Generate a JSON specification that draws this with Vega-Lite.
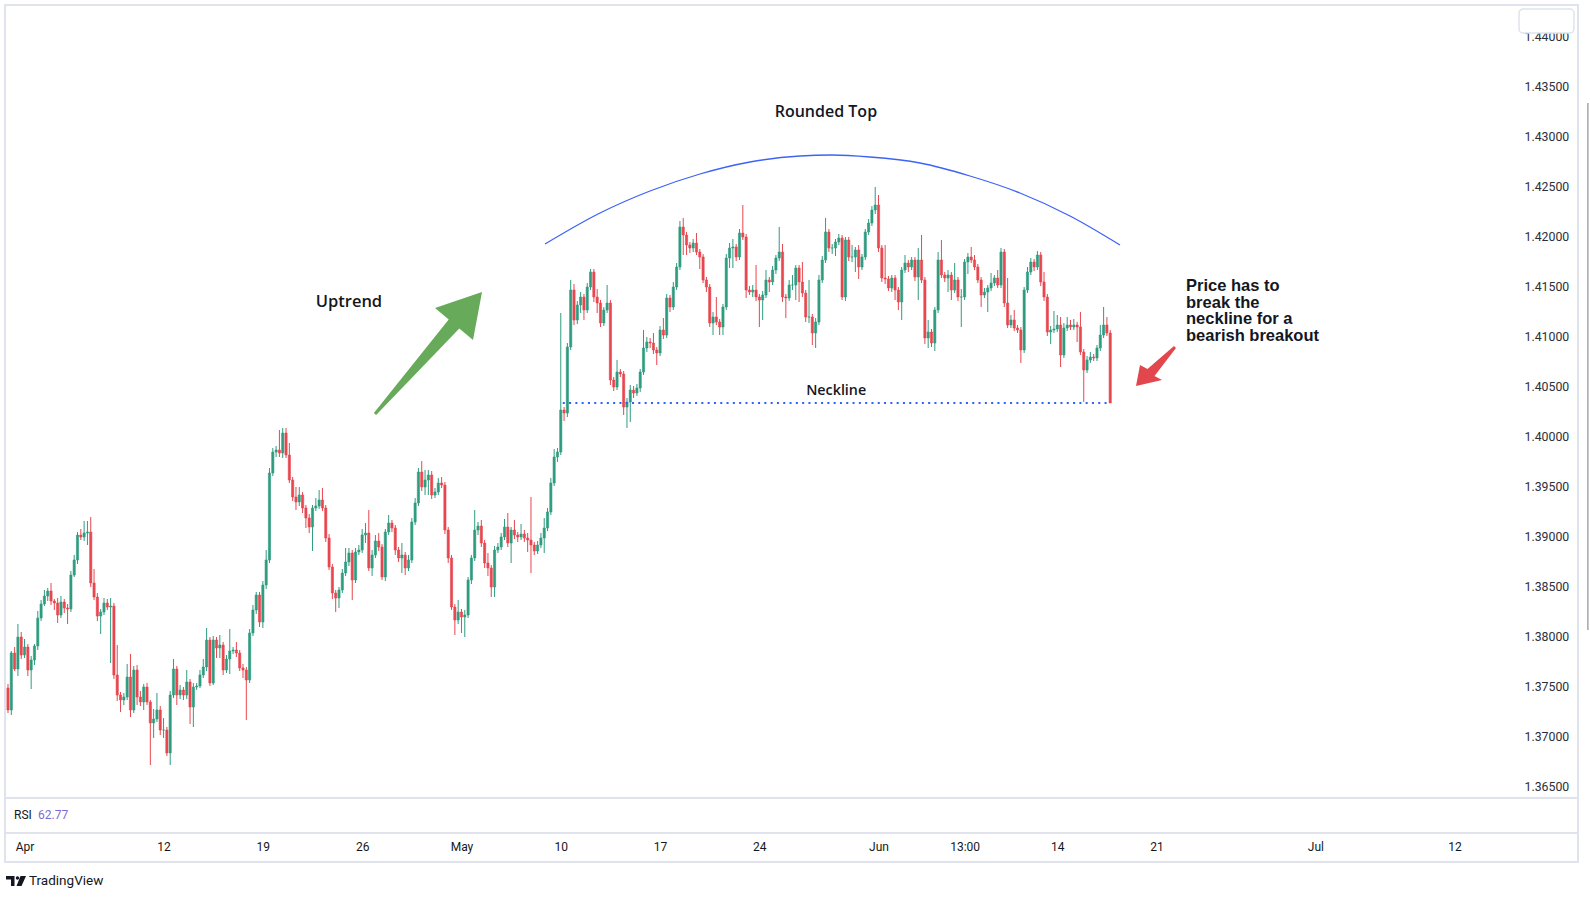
{
  "$schema": "https://vega.github.io/schema/vega-lite/v6.json",
  "width": 1573,
  "height": 857,
  "autosize": {"type": "none"},
  "padding": {"left": 5, "top": 5, "right": 12, "bottom": 38},
  "background": "white",
  "view": {"stroke": "#e0e3eb", "strokeWidth": 2},
  "datasets": {
    "candles": [
      {"n":0,"o":1.3748,"h":1.3752,"l":1.3723,"c":1.3726},
      {"n":1,"o":1.3726,"h":1.3785,"l":1.3721,"c":1.3783},
      {"n":2,"o":1.3783,"h":1.3789,"l":1.3765,"c":1.3767},
      {"n":3,"o":1.3767,"h":1.3812,"l":1.3760,"c":1.3799},
      {"n":4,"o":1.3799,"h":1.3804,"l":1.3777,"c":1.3781},
      {"n":5,"o":1.3781,"h":1.3797,"l":1.3778,"c":1.3789},
      {"n":6,"o":1.3789,"h":1.3792,"l":1.3760,"c":1.3766},
      {"n":7,"o":1.3766,"h":1.3780,"l":1.3747,"c":1.3776},
      {"n":8,"o":1.3776,"h":1.3792,"l":1.3771,"c":1.3790},
      {"n":9,"o":1.3790,"h":1.3825,"l":1.3786,"c":1.3818},
      {"n":10,"o":1.3818,"h":1.3836,"l":1.3815,"c":1.3832},
      {"n":11,"o":1.3832,"h":1.3846,"l":1.3830,"c":1.3840},
      {"n":12,"o":1.3840,"h":1.3848,"l":1.3835,"c":1.3845},
      {"n":13,"o":1.3845,"h":1.3853,"l":1.3831,"c":1.3835},
      {"n":14,"o":1.3835,"h":1.3837,"l":1.3826,"c":1.3833},
      {"n":15,"o":1.3833,"h":1.3838,"l":1.3813,"c":1.3821},
      {"n":16,"o":1.3821,"h":1.3840,"l":1.3818,"c":1.3834},
      {"n":17,"o":1.3834,"h":1.3837,"l":1.3823,"c":1.3828},
      {"n":18,"o":1.3828,"h":1.3832,"l":1.3812,"c":1.3827},
      {"n":19,"o":1.3827,"h":1.3865,"l":1.3824,"c":1.3861},
      {"n":20,"o":1.3861,"h":1.3881,"l":1.3859,"c":1.3876},
      {"n":21,"o":1.3876,"h":1.3904,"l":1.3872,"c":1.3901},
      {"n":22,"o":1.3901,"h":1.3907,"l":1.3896,"c":1.3899},
      {"n":23,"o":1.3899,"h":1.3915,"l":1.3895,"c":1.3903},
      {"n":24,"o":1.3903,"h":1.3915,"l":1.3891,"c":1.3904},
      {"n":25,"o":1.3904,"h":1.3919,"l":1.3849,"c":1.3853},
      {"n":26,"o":1.3853,"h":1.3867,"l":1.3836,"c":1.3839},
      {"n":27,"o":1.3839,"h":1.3843,"l":1.3815,"c":1.3820},
      {"n":28,"o":1.3820,"h":1.3827,"l":1.3802,"c":1.3824},
      {"n":29,"o":1.3824,"h":1.3838,"l":1.3821,"c":1.3833},
      {"n":30,"o":1.3833,"h":1.3837,"l":1.3826,"c":1.3829},
      {"n":31,"o":1.3829,"h":1.3838,"l":1.3773,"c":1.3830},
      {"n":32,"o":1.3830,"h":1.3833,"l":1.3757,"c":1.3761},
      {"n":33,"o":1.3761,"h":1.3791,"l":1.3735,"c":1.3741},
      {"n":34,"o":1.3741,"h":1.3744,"l":1.3724,"c":1.3736},
      {"n":35,"o":1.3736,"h":1.3743,"l":1.3731,"c":1.3739},
      {"n":36,"o":1.3739,"h":1.3772,"l":1.3736,"c":1.3759},
      {"n":37,"o":1.3759,"h":1.3782,"l":1.3719,"c":1.3726},
      {"n":38,"o":1.3726,"h":1.3770,"l":1.3723,"c":1.3766},
      {"n":39,"o":1.3766,"h":1.3771,"l":1.3731,"c":1.3739},
      {"n":40,"o":1.3739,"h":1.3745,"l":1.3730,"c":1.3734},
      {"n":41,"o":1.3734,"h":1.3752,"l":1.3726,"c":1.3749},
      {"n":42,"o":1.3749,"h":1.3753,"l":1.3731,"c":1.3734},
      {"n":43,"o":1.3734,"h":1.3736,"l":1.3671,"c":1.3713},
      {"n":44,"o":1.3713,"h":1.3727,"l":1.3698,"c":1.3717},
      {"n":45,"o":1.3717,"h":1.3743,"l":1.3714,"c":1.3726},
      {"n":46,"o":1.3726,"h":1.3730,"l":1.3701,"c":1.3706},
      {"n":47,"o":1.3706,"h":1.3718,"l":1.3698,"c":1.3706},
      {"n":48,"o":1.3706,"h":1.3709,"l":1.3680,"c":1.3683},
      {"n":49,"o":1.3683,"h":1.3745,"l":1.3671,"c":1.3741},
      {"n":50,"o":1.3741,"h":1.3777,"l":1.3738,"c":1.3767},
      {"n":51,"o":1.3767,"h":1.3770,"l":1.3731,"c":1.3741},
      {"n":52,"o":1.3741,"h":1.3751,"l":1.3737,"c":1.3746},
      {"n":53,"o":1.3746,"h":1.3749,"l":1.3736,"c":1.3741},
      {"n":54,"o":1.3741,"h":1.3766,"l":1.3737,"c":1.3754},
      {"n":55,"o":1.3754,"h":1.3757,"l":1.3712,"c":1.3729},
      {"n":56,"o":1.3729,"h":1.3753,"l":1.3709,"c":1.3749},
      {"n":57,"o":1.3749,"h":1.3753,"l":1.3746,"c":1.3750},
      {"n":58,"o":1.3750,"h":1.3766,"l":1.3748,"c":1.3761},
      {"n":59,"o":1.3761,"h":1.3777,"l":1.3758,"c":1.3769},
      {"n":60,"o":1.3769,"h":1.3808,"l":1.3765,"c":1.3796},
      {"n":61,"o":1.3796,"h":1.3799,"l":1.3750,"c":1.3753},
      {"n":62,"o":1.3753,"h":1.3800,"l":1.3751,"c":1.3796},
      {"n":63,"o":1.3796,"h":1.3799,"l":1.3778,"c":1.3788},
      {"n":64,"o":1.3788,"h":1.3801,"l":1.3778,"c":1.3791},
      {"n":65,"o":1.3791,"h":1.3794,"l":1.3761,"c":1.3766},
      {"n":66,"o":1.3766,"h":1.3781,"l":1.3763,"c":1.3777},
      {"n":67,"o":1.3777,"h":1.3807,"l":1.3762,"c":1.3785},
      {"n":68,"o":1.3785,"h":1.3789,"l":1.3782,"c":1.3786},
      {"n":69,"o":1.3786,"h":1.3794,"l":1.3779,"c":1.3783},
      {"n":70,"o":1.3783,"h":1.3786,"l":1.3765,"c":1.3768},
      {"n":71,"o":1.3768,"h":1.3772,"l":1.3758,"c":1.3766},
      {"n":72,"o":1.3766,"h":1.3769,"l":1.3716,"c":1.3756},
      {"n":73,"o":1.3756,"h":1.3807,"l":1.3753,"c":1.3803},
      {"n":74,"o":1.3803,"h":1.3831,"l":1.3800,"c":1.3826},
      {"n":75,"o":1.3826,"h":1.3844,"l":1.3822,"c":1.3841},
      {"n":76,"o":1.3841,"h":1.3844,"l":1.3809,"c":1.3814},
      {"n":77,"o":1.3814,"h":1.3855,"l":1.3808,"c":1.3851},
      {"n":78,"o":1.3851,"h":1.3886,"l":1.3847,"c":1.3876},
      {"n":79,"o":1.3876,"h":1.3968,"l":1.3873,"c":1.3963},
      {"n":80,"o":1.3963,"h":1.3988,"l":1.3960,"c":1.3984},
      {"n":81,"o":1.3984,"h":1.3990,"l":1.3979,"c":1.3986},
      {"n":82,"o":1.3986,"h":1.4006,"l":1.3979,"c":1.3983},
      {"n":83,"o":1.3983,"h":1.4008,"l":1.3978,"c":1.4003},
      {"n":84,"o":1.4003,"h":1.4008,"l":1.3978,"c":1.3981},
      {"n":85,"o":1.3981,"h":1.3993,"l":1.3953,"c":1.3956},
      {"n":86,"o":1.3956,"h":1.3959,"l":1.3935,"c":1.3939},
      {"n":87,"o":1.3939,"h":1.3949,"l":1.3926,"c":1.3934},
      {"n":88,"o":1.3934,"h":1.3949,"l":1.3930,"c":1.3941},
      {"n":89,"o":1.3941,"h":1.3944,"l":1.3923,"c":1.3928},
      {"n":90,"o":1.3928,"h":1.3931,"l":1.3908,"c":1.3918},
      {"n":91,"o":1.3918,"h":1.3922,"l":1.3903,"c":1.3909},
      {"n":92,"o":1.3909,"h":1.3931,"l":1.3885,"c":1.3928},
      {"n":93,"o":1.3928,"h":1.3938,"l":1.3925,"c":1.3930},
      {"n":94,"o":1.3930,"h":1.3946,"l":1.3927,"c":1.3936},
      {"n":95,"o":1.3936,"h":1.3948,"l":1.3925,"c":1.3928},
      {"n":96,"o":1.3928,"h":1.3931,"l":1.3894,"c":1.3898},
      {"n":97,"o":1.3898,"h":1.3902,"l":1.3866,"c":1.3869},
      {"n":98,"o":1.3869,"h":1.3872,"l":1.3837,"c":1.3843},
      {"n":99,"o":1.3843,"h":1.3846,"l":1.3824,"c":1.3838},
      {"n":100,"o":1.3838,"h":1.3849,"l":1.3828,"c":1.3846},
      {"n":101,"o":1.3846,"h":1.3867,"l":1.3843,"c":1.3863},
      {"n":102,"o":1.3863,"h":1.3888,"l":1.3860,"c":1.3874},
      {"n":103,"o":1.3874,"h":1.3888,"l":1.3870,"c":1.3883},
      {"n":104,"o":1.3883,"h":1.3886,"l":1.3836,"c":1.3856},
      {"n":105,"o":1.3856,"h":1.3888,"l":1.3853,"c":1.3884},
      {"n":106,"o":1.3884,"h":1.3891,"l":1.3881,"c":1.3886},
      {"n":107,"o":1.3886,"h":1.3907,"l":1.3883,"c":1.3901},
      {"n":108,"o":1.3901,"h":1.3913,"l":1.3893,"c":1.3903},
      {"n":109,"o":1.3903,"h":1.3926,"l":1.3865,"c":1.3868},
      {"n":110,"o":1.3868,"h":1.3886,"l":1.3860,"c":1.3881},
      {"n":111,"o":1.3881,"h":1.3901,"l":1.3878,"c":1.3895},
      {"n":112,"o":1.3895,"h":1.3903,"l":1.3885,"c":1.3889},
      {"n":113,"o":1.3889,"h":1.3892,"l":1.3856,"c":1.3859},
      {"n":114,"o":1.3859,"h":1.3907,"l":1.3855,"c":1.3904},
      {"n":115,"o":1.3904,"h":1.3921,"l":1.3901,"c":1.3913},
      {"n":116,"o":1.3913,"h":1.3916,"l":1.3904,"c":1.3908},
      {"n":117,"o":1.3908,"h":1.3911,"l":1.3881,"c":1.3886},
      {"n":118,"o":1.3886,"h":1.3889,"l":1.3874,"c":1.3878},
      {"n":119,"o":1.3878,"h":1.3893,"l":1.3863,"c":1.3881},
      {"n":120,"o":1.3881,"h":1.3884,"l":1.3861,"c":1.3868},
      {"n":121,"o":1.3868,"h":1.3881,"l":1.3865,"c":1.3876},
      {"n":122,"o":1.3876,"h":1.3918,"l":1.3873,"c":1.3914},
      {"n":123,"o":1.3914,"h":1.3938,"l":1.3911,"c":1.3933},
      {"n":124,"o":1.3933,"h":1.3968,"l":1.3930,"c":1.3964},
      {"n":125,"o":1.3964,"h":1.3975,"l":1.3945,"c":1.3949},
      {"n":126,"o":1.3949,"h":1.3966,"l":1.3941,"c":1.3956},
      {"n":127,"o":1.3956,"h":1.3966,"l":1.3941,"c":1.3961},
      {"n":128,"o":1.3961,"h":1.3965,"l":1.3937,"c":1.3941},
      {"n":129,"o":1.3941,"h":1.3948,"l":1.3938,"c":1.3944},
      {"n":130,"o":1.3944,"h":1.3958,"l":1.3941,"c":1.3953},
      {"n":131,"o":1.3953,"h":1.3959,"l":1.3948,"c":1.3951},
      {"n":132,"o":1.3951,"h":1.3954,"l":1.3902,"c":1.3906},
      {"n":133,"o":1.3906,"h":1.3909,"l":1.3873,"c":1.3878},
      {"n":134,"o":1.3878,"h":1.3881,"l":1.3826,"c":1.3829},
      {"n":135,"o":1.3829,"h":1.3832,"l":1.3801,"c":1.3816},
      {"n":136,"o":1.3816,"h":1.3836,"l":1.3812,"c":1.3824},
      {"n":137,"o":1.3824,"h":1.3827,"l":1.3803,"c":1.3819},
      {"n":138,"o":1.3819,"h":1.3826,"l":1.3799,"c":1.3821},
      {"n":139,"o":1.3821,"h":1.3859,"l":1.3818,"c":1.3856},
      {"n":140,"o":1.3856,"h":1.3881,"l":1.3852,"c":1.3878},
      {"n":141,"o":1.3878,"h":1.3926,"l":1.3875,"c":1.3906},
      {"n":142,"o":1.3906,"h":1.3914,"l":1.3901,"c":1.3910},
      {"n":143,"o":1.3910,"h":1.3916,"l":1.3889,"c":1.3893},
      {"n":144,"o":1.3893,"h":1.3896,"l":1.3868,"c":1.3873},
      {"n":145,"o":1.3873,"h":1.3883,"l":1.3860,"c":1.3868},
      {"n":146,"o":1.3868,"h":1.3871,"l":1.3839,"c":1.3849},
      {"n":147,"o":1.3849,"h":1.3890,"l":1.3839,"c":1.3886},
      {"n":148,"o":1.3886,"h":1.3893,"l":1.3883,"c":1.3889},
      {"n":149,"o":1.3889,"h":1.3903,"l":1.3886,"c":1.3899},
      {"n":150,"o":1.3899,"h":1.3917,"l":1.3896,"c":1.3909},
      {"n":151,"o":1.3909,"h":1.3923,"l":1.3889,"c":1.3893},
      {"n":152,"o":1.3893,"h":1.3909,"l":1.3873,"c":1.3906},
      {"n":153,"o":1.3906,"h":1.3916,"l":1.3897,"c":1.3901},
      {"n":154,"o":1.3901,"h":1.3904,"l":1.3894,"c":1.3899},
      {"n":155,"o":1.3899,"h":1.3912,"l":1.3896,"c":1.3902},
      {"n":156,"o":1.3902,"h":1.3906,"l":1.3894,"c":1.3898},
      {"n":157,"o":1.3898,"h":1.3903,"l":1.3884,"c":1.3896},
      {"n":158,"o":1.3896,"h":1.3939,"l":1.3863,"c":1.3891},
      {"n":159,"o":1.3891,"h":1.3894,"l":1.3881,"c":1.3885},
      {"n":160,"o":1.3885,"h":1.3895,"l":1.3882,"c":1.3891},
      {"n":161,"o":1.3891,"h":1.3903,"l":1.3888,"c":1.3898},
      {"n":162,"o":1.3898,"h":1.3918,"l":1.3883,"c":1.3908},
      {"n":163,"o":1.3908,"h":1.3928,"l":1.3905,"c":1.3924},
      {"n":164,"o":1.3924,"h":1.3958,"l":1.3921,"c":1.3953},
      {"n":165,"o":1.3953,"h":1.3987,"l":1.3950,"c":1.3979},
      {"n":166,"o":1.3979,"h":1.3988,"l":1.3974,"c":1.3984},
      {"n":167,"o":1.3984,"h":1.4123,"l":1.3981,"c":1.4026},
      {"n":168,"o":1.4026,"h":1.4029,"l":1.4015,"c":1.4023},
      {"n":169,"o":1.4023,"h":1.4093,"l":1.4019,"c":1.4089},
      {"n":170,"o":1.4089,"h":1.4156,"l":1.4086,"c":1.4146},
      {"n":171,"o":1.4146,"h":1.4152,"l":1.4111,"c":1.4116},
      {"n":172,"o":1.4116,"h":1.4135,"l":1.4112,"c":1.4131},
      {"n":173,"o":1.4131,"h":1.4144,"l":1.4123,"c":1.4139},
      {"n":174,"o":1.4139,"h":1.4142,"l":1.4116,"c":1.4126},
      {"n":175,"o":1.4126,"h":1.4153,"l":1.4123,"c":1.4149},
      {"n":176,"o":1.4149,"h":1.4167,"l":1.4146,"c":1.4164},
      {"n":177,"o":1.4164,"h":1.4167,"l":1.4134,"c":1.4139},
      {"n":178,"o":1.4139,"h":1.4147,"l":1.4123,"c":1.4133},
      {"n":179,"o":1.4133,"h":1.4136,"l":1.4109,"c":1.4113},
      {"n":180,"o":1.4113,"h":1.4129,"l":1.4110,"c":1.4126},
      {"n":181,"o":1.4126,"h":1.4151,"l":1.4123,"c":1.4133},
      {"n":182,"o":1.4133,"h":1.4136,"l":1.4051,"c":1.4056},
      {"n":183,"o":1.4056,"h":1.4059,"l":1.4045,"c":1.4049},
      {"n":184,"o":1.4049,"h":1.4076,"l":1.4046,"c":1.4064},
      {"n":185,"o":1.4064,"h":1.4067,"l":1.4059,"c":1.4062},
      {"n":186,"o":1.4062,"h":1.4065,"l":1.4021,"c":1.4029},
      {"n":187,"o":1.4029,"h":1.4038,"l":1.4008,"c":1.4034},
      {"n":188,"o":1.4034,"h":1.4051,"l":1.4014,"c":1.4046},
      {"n":189,"o":1.4046,"h":1.4050,"l":1.4038,"c":1.4043},
      {"n":190,"o":1.4043,"h":1.4052,"l":1.4040,"c":1.4048},
      {"n":191,"o":1.4048,"h":1.4067,"l":1.4044,"c":1.4064},
      {"n":192,"o":1.4064,"h":1.4106,"l":1.4061,"c":1.4088},
      {"n":193,"o":1.4088,"h":1.4099,"l":1.4084,"c":1.4094},
      {"n":194,"o":1.4094,"h":1.4098,"l":1.4088,"c":1.4093},
      {"n":195,"o":1.4093,"h":1.4103,"l":1.4082,"c":1.4086},
      {"n":196,"o":1.4086,"h":1.4089,"l":1.4071,"c":1.4083},
      {"n":197,"o":1.4083,"h":1.4110,"l":1.4080,"c":1.4106},
      {"n":198,"o":1.4106,"h":1.4118,"l":1.4097,"c":1.4101},
      {"n":199,"o":1.4101,"h":1.4142,"l":1.4098,"c":1.4138},
      {"n":200,"o":1.4138,"h":1.4141,"l":1.4124,"c":1.4129},
      {"n":201,"o":1.4129,"h":1.4154,"l":1.4126,"c":1.4149},
      {"n":202,"o":1.4149,"h":1.4173,"l":1.4146,"c":1.4169},
      {"n":203,"o":1.4169,"h":1.4215,"l":1.4166,"c":1.4209},
      {"n":204,"o":1.4209,"h":1.4218,"l":1.4181,"c":1.4201},
      {"n":205,"o":1.4201,"h":1.4204,"l":1.4181,"c":1.4191},
      {"n":206,"o":1.4191,"h":1.4194,"l":1.4183,"c":1.4188},
      {"n":207,"o":1.4188,"h":1.4197,"l":1.4184,"c":1.4193},
      {"n":208,"o":1.4193,"h":1.4203,"l":1.4181,"c":1.4184},
      {"n":209,"o":1.4184,"h":1.4187,"l":1.4167,"c":1.4179},
      {"n":210,"o":1.4179,"h":1.4182,"l":1.4153,"c":1.4156},
      {"n":211,"o":1.4156,"h":1.4159,"l":1.4144,"c":1.4149},
      {"n":212,"o":1.4149,"h":1.4152,"l":1.4109,"c":1.4113},
      {"n":213,"o":1.4113,"h":1.4124,"l":1.4101,"c":1.4119},
      {"n":214,"o":1.4119,"h":1.4139,"l":1.4111,"c":1.4114},
      {"n":215,"o":1.4114,"h":1.4117,"l":1.4101,"c":1.4109},
      {"n":216,"o":1.4109,"h":1.4132,"l":1.4101,"c":1.4129},
      {"n":217,"o":1.4129,"h":1.4182,"l":1.4126,"c":1.4178},
      {"n":218,"o":1.4178,"h":1.4193,"l":1.4168,"c":1.4188},
      {"n":219,"o":1.4188,"h":1.4197,"l":1.4168,"c":1.4189},
      {"n":220,"o":1.4189,"h":1.4192,"l":1.4175,"c":1.4179},
      {"n":221,"o":1.4179,"h":1.4207,"l":1.4176,"c":1.4203},
      {"n":222,"o":1.4203,"h":1.4231,"l":1.4196,"c":1.4199},
      {"n":223,"o":1.4199,"h":1.4202,"l":1.4138,"c":1.4146},
      {"n":224,"o":1.4146,"h":1.4150,"l":1.4141,"c":1.4144},
      {"n":225,"o":1.4144,"h":1.4151,"l":1.4139,"c":1.4146},
      {"n":226,"o":1.4146,"h":1.4171,"l":1.4135,"c":1.4139},
      {"n":227,"o":1.4139,"h":1.4142,"l":1.4109,"c":1.4136},
      {"n":228,"o":1.4136,"h":1.4145,"l":1.4116,"c":1.4141},
      {"n":229,"o":1.4141,"h":1.4166,"l":1.4138,"c":1.4156},
      {"n":230,"o":1.4156,"h":1.4159,"l":1.4144,"c":1.4154},
      {"n":231,"o":1.4154,"h":1.4170,"l":1.4151,"c":1.4166},
      {"n":232,"o":1.4166,"h":1.4181,"l":1.4162,"c":1.4178},
      {"n":233,"o":1.4178,"h":1.4209,"l":1.4175,"c":1.4184},
      {"n":234,"o":1.4184,"h":1.4192,"l":1.4134,"c":1.4139},
      {"n":235,"o":1.4139,"h":1.4142,"l":1.4118,"c":1.4138},
      {"n":236,"o":1.4138,"h":1.4156,"l":1.4135,"c":1.4151},
      {"n":237,"o":1.4151,"h":1.4161,"l":1.4146,"c":1.4151},
      {"n":238,"o":1.4151,"h":1.4171,"l":1.4136,"c":1.4168},
      {"n":239,"o":1.4168,"h":1.4171,"l":1.4134,"c":1.4154},
      {"n":240,"o":1.4154,"h":1.4174,"l":1.4139,"c":1.4143},
      {"n":241,"o":1.4143,"h":1.4146,"l":1.4114,"c":1.4119},
      {"n":242,"o":1.4119,"h":1.4156,"l":1.4113,"c":1.4119},
      {"n":243,"o":1.4119,"h":1.4122,"l":1.4091,"c":1.4103},
      {"n":244,"o":1.4103,"h":1.4118,"l":1.4088,"c":1.4114},
      {"n":245,"o":1.4114,"h":1.4161,"l":1.4111,"c":1.4156},
      {"n":246,"o":1.4156,"h":1.4180,"l":1.4153,"c":1.4176},
      {"n":247,"o":1.4176,"h":1.4218,"l":1.4173,"c":1.4204},
      {"n":248,"o":1.4204,"h":1.4207,"l":1.4184,"c":1.4188},
      {"n":249,"o":1.4188,"h":1.4192,"l":1.4182,"c":1.4188},
      {"n":250,"o":1.4188,"h":1.4197,"l":1.4180,"c":1.4194},
      {"n":251,"o":1.4194,"h":1.4202,"l":1.4191,"c":1.4198},
      {"n":252,"o":1.4198,"h":1.4201,"l":1.4136,"c":1.4139},
      {"n":253,"o":1.4139,"h":1.4199,"l":1.4135,"c":1.4196},
      {"n":254,"o":1.4196,"h":1.4199,"l":1.4175,"c":1.4179},
      {"n":255,"o":1.4179,"h":1.4191,"l":1.4174,"c":1.4179},
      {"n":256,"o":1.4179,"h":1.4189,"l":1.4164,"c":1.4186},
      {"n":257,"o":1.4186,"h":1.4191,"l":1.4157,"c":1.4169},
      {"n":258,"o":1.4169,"h":1.4182,"l":1.4166,"c":1.4179},
      {"n":259,"o":1.4179,"h":1.4207,"l":1.4176,"c":1.4204},
      {"n":260,"o":1.4204,"h":1.4217,"l":1.4201,"c":1.4213},
      {"n":261,"o":1.4213,"h":1.4230,"l":1.4210,"c":1.4226},
      {"n":262,"o":1.4226,"h":1.4249,"l":1.4222,"c":1.4231},
      {"n":263,"o":1.4231,"h":1.4241,"l":1.4184,"c":1.4188},
      {"n":264,"o":1.4188,"h":1.4191,"l":1.4154,"c":1.4158},
      {"n":265,"o":1.4158,"h":1.4191,"l":1.4152,"c":1.4157},
      {"n":266,"o":1.4157,"h":1.4160,"l":1.4145,"c":1.4148},
      {"n":267,"o":1.4148,"h":1.4161,"l":1.4144,"c":1.4158},
      {"n":268,"o":1.4158,"h":1.4161,"l":1.4136,"c":1.4146},
      {"n":269,"o":1.4146,"h":1.4149,"l":1.4126,"c":1.4134},
      {"n":270,"o":1.4134,"h":1.4169,"l":1.4116,"c":1.4166},
      {"n":271,"o":1.4166,"h":1.4181,"l":1.4163,"c":1.4173},
      {"n":272,"o":1.4173,"h":1.4176,"l":1.4164,"c":1.4169},
      {"n":273,"o":1.4169,"h":1.4179,"l":1.4166,"c":1.4176},
      {"n":274,"o":1.4176,"h":1.4179,"l":1.4155,"c":1.4159},
      {"n":275,"o":1.4159,"h":1.4188,"l":1.4136,"c":1.4176},
      {"n":276,"o":1.4176,"h":1.4201,"l":1.4153,"c":1.4156},
      {"n":277,"o":1.4156,"h":1.4159,"l":1.4092,"c":1.4098},
      {"n":278,"o":1.4098,"h":1.4116,"l":1.4088,"c":1.4104},
      {"n":279,"o":1.4104,"h":1.4107,"l":1.4089,"c":1.4093},
      {"n":280,"o":1.4093,"h":1.4129,"l":1.4085,"c":1.4126},
      {"n":281,"o":1.4126,"h":1.4184,"l":1.4123,"c":1.4176},
      {"n":282,"o":1.4176,"h":1.4196,"l":1.4158,"c":1.4161},
      {"n":283,"o":1.4161,"h":1.4164,"l":1.4154,"c":1.4158},
      {"n":284,"o":1.4158,"h":1.4166,"l":1.4144,"c":1.4161},
      {"n":285,"o":1.4161,"h":1.4164,"l":1.4136,"c":1.4146},
      {"n":286,"o":1.4146,"h":1.4173,"l":1.4143,"c":1.4156},
      {"n":287,"o":1.4156,"h":1.4159,"l":1.4135,"c":1.4139},
      {"n":288,"o":1.4139,"h":1.4147,"l":1.4109,"c":1.4139},
      {"n":289,"o":1.4139,"h":1.4177,"l":1.4136,"c":1.4174},
      {"n":290,"o":1.4174,"h":1.4183,"l":1.4162,"c":1.4179},
      {"n":291,"o":1.4179,"h":1.4189,"l":1.4173,"c":1.4176},
      {"n":292,"o":1.4176,"h":1.4181,"l":1.4166,"c":1.4169},
      {"n":293,"o":1.4169,"h":1.4172,"l":1.4153,"c":1.4156},
      {"n":294,"o":1.4156,"h":1.4159,"l":1.4129,"c":1.4141},
      {"n":295,"o":1.4141,"h":1.4148,"l":1.4138,"c":1.4144},
      {"n":296,"o":1.4144,"h":1.4151,"l":1.4124,"c":1.4148},
      {"n":297,"o":1.4148,"h":1.4163,"l":1.4145,"c":1.4153},
      {"n":298,"o":1.4153,"h":1.4161,"l":1.4150,"c":1.4158},
      {"n":299,"o":1.4158,"h":1.4166,"l":1.4148,"c":1.4151},
      {"n":300,"o":1.4151,"h":1.4188,"l":1.4148,"c":1.4184},
      {"n":301,"o":1.4184,"h":1.4187,"l":1.4129,"c":1.4133},
      {"n":302,"o":1.4133,"h":1.4158,"l":1.4108,"c":1.4111},
      {"n":303,"o":1.4111,"h":1.4121,"l":1.4108,"c":1.4116},
      {"n":304,"o":1.4116,"h":1.4126,"l":1.4105,"c":1.4108},
      {"n":305,"o":1.4108,"h":1.4111,"l":1.4103,"c":1.4106},
      {"n":306,"o":1.4106,"h":1.4109,"l":1.4073,"c":1.4086},
      {"n":307,"o":1.4086,"h":1.4149,"l":1.4083,"c":1.4146},
      {"n":308,"o":1.4146,"h":1.4169,"l":1.4143,"c":1.4164},
      {"n":309,"o":1.4164,"h":1.4178,"l":1.4161,"c":1.4174},
      {"n":310,"o":1.4174,"h":1.4177,"l":1.4165,"c":1.4169},
      {"n":311,"o":1.4169,"h":1.4185,"l":1.4166,"c":1.4181},
      {"n":312,"o":1.4181,"h":1.4184,"l":1.4150,"c":1.4154},
      {"n":313,"o":1.4154,"h":1.4164,"l":1.4135,"c":1.4139},
      {"n":314,"o":1.4139,"h":1.4142,"l":1.4100,"c":1.4104},
      {"n":315,"o":1.4104,"h":1.4110,"l":1.4092,"c":1.4106},
      {"n":316,"o":1.4106,"h":1.4125,"l":1.4103,"c":1.4107},
      {"n":317,"o":1.4107,"h":1.4121,"l":1.4104,"c":1.4111},
      {"n":318,"o":1.4111,"h":1.4119,"l":1.4069,"c":1.4081},
      {"n":319,"o":1.4081,"h":1.4113,"l":1.4078,"c":1.4108},
      {"n":320,"o":1.4108,"h":1.4119,"l":1.4105,"c":1.4111},
      {"n":321,"o":1.4111,"h":1.4116,"l":1.4106,"c":1.4109},
      {"n":322,"o":1.4109,"h":1.4117,"l":1.4106,"c":1.4111},
      {"n":323,"o":1.4111,"h":1.4114,"l":1.4094,"c":1.4109},
      {"n":324,"o":1.4109,"h":1.4124,"l":1.4081,"c":1.4084},
      {"n":325,"o":1.4084,"h":1.4087,"l":1.4034,"c":1.4066},
      {"n":326,"o":1.4066,"h":1.4080,"l":1.4063,"c":1.4076},
      {"n":327,"o":1.4076,"h":1.4084,"l":1.4073,"c":1.4079},
      {"n":328,"o":1.4079,"h":1.4082,"l":1.4075,"c":1.4078},
      {"n":329,"o":1.4078,"h":1.4091,"l":1.4075,"c":1.4088},
      {"n":330,"o":1.4088,"h":1.4111,"l":1.4085,"c":1.4101},
      {"n":331,"o":1.4101,"h":1.4129,"l":1.4098,"c":1.4111},
      {"n":332,"o":1.4111,"h":1.4119,"l":1.4100,"c":1.4103},
      {"n":333,"o":1.4103,"h":1.4106,"l":1.4033,"c":1.4033}
    ],
    "arc": [
      {"n":162.24,"p":1.4192},{"n":178.85,"p":1.4223},{"n":193.96,"p":1.4245},
      {"n":209.06,"p":1.4262},{"n":224.17,"p":1.4274},{"n":239.27,"p":1.428},
      {"n":248.94,"p":1.4281},{"n":260.42,"p":1.4279},{"n":275.53,"p":1.4273},
      {"n":290.63,"p":1.426},{"n":305.74,"p":1.4243},{"n":320.85,"p":1.422},
      {"n":335.95,"p":1.4191}
    ]
  },
  "layer": [
    {
      "data": {"name": "candles"},
      "mark": {"type": "rule", "strokeWidth": 1},
      "encoding": {
        "x": {
          "field": "n",
          "type": "quantitative",
          "scale": {"domain": [-0.906, 474.32], "nice": false, "zero": false, "padding": 0},
          "axis": {
            "orient": "bottom",
            "offset": -29,
            "title": null,
            "domain": false,
            "ticks": false,
            "grid": false,
            "labelPadding": 8,
            "labelFont": "Roboto",
            "labelFontSize": 12,
            "labelColor": "#131722",
            "labelOverlap": false,
            "labelFlush": false,
            "values": [5, 47, 77, 107, 137, 167, 197, 227, 263, 289, 317, 347, 395, 437],
            "labelExpr": "datum.value == 5 ? 'Apr' : datum.value == 47 ? '12' : datum.value == 77 ? '19' : datum.value == 107 ? '26' : datum.value == 137 ? 'May' : datum.value == 167 ? '10' : datum.value == 197 ? '17' : datum.value == 227 ? '24' : datum.value == 263 ? 'Jun' : datum.value == 289 ? '13:00' : datum.value == 317 ? '14' : datum.value == 347 ? '21' : datum.value == 395 ? 'Jul' : '12'"
          }
        },
        "y": {
          "field": "l",
          "type": "quantitative",
          "scale": {"domain": [1.3574, 1.4431], "nice": false, "zero": false, "padding": 0},
          "axis": {
            "orient": "right",
            "offset": -63,
            "title": null,
            "domain": false,
            "ticks": false,
            "grid": false,
            "labelPadding": 9,
            "labelFont": "Roboto",
            "labelFontSize": 12.3,
            "labelColor": "#2a2e39",
            "labelOverlap": false,
            "labelFlush": false,
            "values": [1.365, 1.37, 1.375, 1.38, 1.385, 1.39, 1.395, 1.4, 1.405, 1.41, 1.415, 1.42, 1.425, 1.43, 1.435, 1.44],
            "format": ".5f"
          }
        },
        "y2": {"field": "h"},
        "color": {
          "condition": {"test": "datum.c >= datum.o", "value": "#2f9c80"},
          "value": "#e8474f"
        }
      }
    },
    {
      "data": {"name": "candles"},
      "mark": {"type": "bar", "width": 2.2, "strokeWidth": 0.6},
      "encoding": {
        "x": {"field": "n", "type": "quantitative"},
        "y": {"field": "o", "type": "quantitative"},
        "y2": {"field": "c"},
        "color": {
          "condition": {"test": "datum.c >= datum.o", "value": "#2f9c80"},
          "value": "#e8474f"
        },
        "stroke": {
          "condition": {"test": "datum.c >= datum.o", "value": "#2f9c80"},
          "value": "#e8474f"
        }
      }
    },
    {
      "data": {"values": [{}]},
      "mark": {"type": "rule", "color": "#e0e3eb", "strokeWidth": 2},
      "encoding": {
        "x": {"datum": -0.906, "type": "quantitative"},
        "x2": {"datum": 474.32},
        "y": {"datum": 1.3638, "type": "quantitative"}
      }
    },
    {
      "data": {"values": [{}]},
      "mark": {"type": "rule", "color": "#e0e3eb", "strokeWidth": 2},
      "encoding": {
        "x": {"datum": -0.906, "type": "quantitative"},
        "x2": {"datum": 474.32},
        "y": {"datum": 1.3603, "type": "quantitative"}
      }
    },
    {
      "data": {"name": "arc"},
      "mark": {"type": "line", "color": "#3d63f5", "strokeWidth": 1.3, "interpolate": "monotone"},
      "encoding": {
        "x": {"field": "n", "type": "quantitative"},
        "y": {"field": "p", "type": "quantitative"}
      }
    },
    {
      "data": {"values": [{}]},
      "mark": {"type": "rule", "color": "#2962ff", "strokeWidth": 2, "strokeDash": [2, 4.3], "strokeCap": "butt"},
      "encoding": {
        "x": {"datum": 167.6, "type": "quantitative"},
        "x2": {"datum": 332.9},
        "y": {"datum": 1.4033, "type": "quantitative"}
      }
    },
    {
      "data": {"values": [{}]},
      "mark": {
        "type": "point",
        "shape": "M0.855,-0.984L0.71,-0.21L0.489,-0.394L-0.853,1L-0.889,0.968L0.318,-0.542L0.097,-0.726Z",
        "filled": true,
        "size": 15376,
        "color": "#67aa59",
        "opacity": 1,
        "strokeWidth": 0
      },
      "encoding": {
        "x": {"datum": 127.19, "type": "quantitative"},
        "y": {"datum": 1.4083, "type": "quantitative"}
      }
    },
    {
      "data": {"values": [{}]},
      "mark": {
        "type": "point",
        "shape": "M-0.952,0.952L-0.762,-0.048L-0.405,0.143L0.857,-0.952L0.952,-0.857L-0.071,0.476L0.286,0.667Z",
        "filled": true,
        "size": 1764,
        "color": "#e2474e",
        "opacity": 1,
        "strokeWidth": 0
      },
      "encoding": {
        "x": {"datum": 346.83, "type": "quantitative"},
        "y": {"datum": 1.407, "type": "quantitative"}
      }
    },
    {
      "data": {"values": [{}]},
      "mark": {"type": "text", "text": "Rounded Top", "font": "Open Sans", "fontWeight": 600, "fontSize": 16, "color": "#131722", "align": "center", "baseline": "middle"},
      "encoding": {
        "x": {"datum": 247.1, "type": "quantitative"},
        "y": {"datum": 1.4324, "type": "quantitative"}
      }
    },
    {
      "data": {"values": [{}]},
      "mark": {"type": "text", "text": "Uptrend", "font": "Open Sans", "fontWeight": 600, "fontSize": 16.5, "color": "#131722", "align": "center", "baseline": "middle"},
      "encoding": {
        "x": {"datum": 103.0, "type": "quantitative"},
        "y": {"datum": 1.4134, "type": "quantitative"}
      }
    },
    {
      "data": {"values": [{}]},
      "mark": {"type": "text", "text": "Neckline", "font": "Open Sans", "fontWeight": 600, "fontSize": 14.3, "color": "#131722", "align": "center", "baseline": "middle"},
      "encoding": {
        "x": {"datum": 250.2, "type": "quantitative"},
        "y": {"datum": 1.4045, "type": "quantitative"}
      }
    },
    {
      "data": {"values": [{}]},
      "mark": {"type": "text", "text": ["Price has to", "break the", "neckline for a", "bearish breakout"], "font": "Liberation Sans", "fontWeight": "bold", "fontSize": 16.5, "lineHeight": 16.5, "color": "#131722", "align": "left", "baseline": "top"},
      "encoding": {
        "x": {"datum": 355.9, "type": "quantitative"},
        "y": {"datum": 1.4158, "type": "quantitative"}
      }
    },
    {
      "data": {"values": [{}]},
      "mark": {"type": "rect", "fill": "white", "stroke": "#e0e3eb", "strokeWidth": 1.5, "cornerRadius": 4},
      "encoding": {
        "x": {"datum": 456.5, "type": "quantitative"},
        "x2": {"datum": 473.1},
        "y": {"datum": 1.4427, "type": "quantitative"},
        "y2": {"datum": 1.4403}
      }
    },
    {
      "data": {"values": [{}]},
      "mark": {"type": "rule", "color": "#a3a6af", "strokeWidth": 1.5},
      "encoding": {
        "x": {"datum": 477.3, "type": "quantitative"},
        "y": {"datum": 1.4333, "type": "quantitative"},
        "y2": {"datum": 1.3806}
      }
    },
    {
      "data": {"values": [{}]},
      "mark": {"type": "text", "text": "RSI", "font": "Roboto", "fontSize": 12, "color": "#131722", "align": "left", "baseline": "middle"},
      "encoding": {
        "x": {"datum": 1.81, "type": "quantitative"},
        "y": {"datum": 1.3621, "type": "quantitative"}
      }
    },
    {
      "data": {"values": [{}]},
      "mark": {"type": "text", "text": "62.77", "font": "Roboto", "fontSize": 12, "color": "#7e6bd4", "align": "left", "baseline": "middle"},
      "encoding": {
        "x": {"datum": 9.06, "type": "quantitative"},
        "y": {"datum": 1.3621, "type": "quantitative"}
      }
    },
    {
      "data": {"values": [{}]},
      "mark": {
        "type": "point",
        "shape": "M-1,-0.5H-0.15V0.5H-0.5V-0.15H-1Z M-0.02,-0.3a0.17,0.17 0 1,0 0.34,0a0.17,0.17 0 1,0 -0.34,0Z M0.45,-0.5H1L0.55,0.5H0.05Z",
        "filled": true,
        "size": 400,
        "color": "#131722",
        "opacity": 1,
        "strokeWidth": 0
      },
      "encoding": {
        "x": {"datum": 2.42, "type": "quantitative"},
        "y": {"datum": 1.3555, "type": "quantitative"}
      }
    },
    {
      "data": {"values": [{}]},
      "mark": {"type": "text", "text": "TradingView", "font": "Roboto", "fontSize": 13.5, "color": "#131722", "align": "left", "baseline": "middle"},
      "encoding": {
        "x": {"datum": 6.34, "type": "quantitative"},
        "y": {"datum": 1.3555, "type": "quantitative"}
      }
    }
  ]
}
